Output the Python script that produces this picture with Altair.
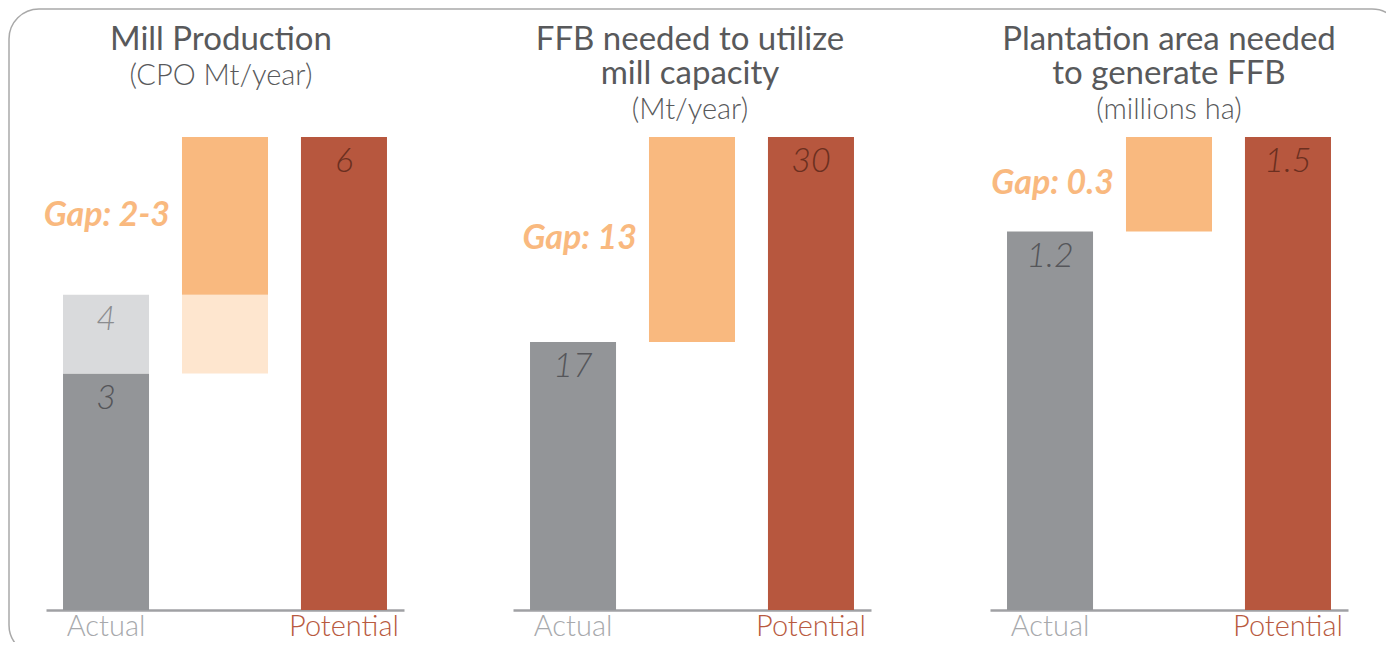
import altair as alt
import pandas as pd

FONT = "Lato"
CATS = ["Actual", "Gap", "Potential"]

# ---- data ----
p1_cat = ["Actual", "Actual", "Gap", "Gap", "Potential"]
p1_lo = [0, 3, 3, 4, 0]
p1_hi = [3, 4, 4, 6, 6]
p1_kind = ["actual", "actual_upper", "gap_lower", "gap", "potential"]
p1_label = ["3", "4", "", "", "6"]

p2_cat = ["Actual", "Gap", "Potential"]
p2_lo = [0, 17, 0]
p2_hi = [17, 30, 30]
p2_kind = ["actual", "gap", "potential"]
p2_label = ["17", "", "30"]

p3_cat = ["Actual", "Gap", "Potential"]
p3_lo = [0, 1.2, 0]
p3_hi = [1.2, 1.5, 1.5]
p3_kind = ["actual", "gap", "potential"]
p3_label = ["1.2", "", "1.5"]

titles = [["Mill Production"],
          ["FFB needed to utilize", "mill capacity"],
          ["Plantation area needed", "to generate FFB"]]
subtitles = ["(CPO Mt/year)", "(Mt/year)", "(millions ha)"]
gap_text = ["Gap: 2-3", "Gap: 13", "Gap: 0.3"]
gap_from = [4, 17, 1.2]
gap_to = [6, 30, 1.5]

# ---- styles ----
KINDS = ["actual", "actual_upper", "gap_lower", "gap", "potential"]
FILLS = ["#939598", "#d9dadc", "#fee6cf", "#f9b97f", "#b7573e"]
TEXTC = ["#55565a", "#8b8c8f", "#8b8c8f", "#8b8c8f", "#6b2f20"]
TITLE_C = "#58595b"
PW = 358      # axis / band range width
PH = 473      # plot height


def title_layers(lines, sub, cx):
    out = []
    n = len(lines)
    sub_y = -18 - 34 * (2 - n)
    for i, line in enumerate(lines):
        yy = sub_y - 35 - 34 * (n - 1 - i)
        out.append(alt.Chart(pd.DataFrame({"t": [line]})).mark_text(
            font=FONT, fontSize=33, color=TITLE_C, baseline="alphabetic", align="center"
        ).encode(x=alt.value(cx), y=alt.value(yy), text="t:N"))
    out.append(alt.Chart(pd.DataFrame({"t": [sub]})).mark_text(
        font=FONT, fontSize=29, fontWeight=300, color=TITLE_C,
        baseline="alphabetic", align="center"
    ).encode(x=alt.value(cx), y=alt.value(sub_y), text="t:N"))
    return out


def panel(cat, lo, hi, kind, label, title, subtitle, gtext, g0, g1,
          width, cx, frame=False):
    df = pd.DataFrame({"cat": cat, "lo": lo, "hi": hi, "kind": kind, "label": label})
    ymax = max(hi)
    xs = alt.Scale(domain=CATS, range=[0, PW], paddingInner=0.277, paddingOuter=0.143)
    ys = alt.Scale(domain=[0, ymax], nice=False, zero=True)
    xaxis = alt.Axis(title=None, domainColor="#a0a1a4", domainWidth=2.5, ticks=False,
                     tickSize=0, labelFont=FONT, labelFontSize=29, labelPadding=2,
                     labelAngle=0, labelFontWeight=300,
                     labelExpr="datum.value == 'Gap' ? '' : datum.value",
                     labelColor={"condition": {"test": "datum.value === 'Potential'",
                                               "value": "#b85a40"},
                                 "value": "#a7a9ac"})
    base = alt.Chart(df)
    bars = base.mark_bar().encode(
        x=alt.X("cat:N", scale=xs, axis=xaxis, sort=CATS),
        y=alt.Y("lo:Q", scale=ys, axis=None),
        y2="hi:Q",
        fill=alt.Fill("kind:N", scale=alt.Scale(domain=KINDS, range=FILLS), legend=None),
    )
    vals = base.transform_filter("datum.label != ''").mark_text(
        font=FONT, fontSize=34, fontStyle="italic", fontWeight=300,
        baseline="middle", dy=25
    ).encode(
        x=alt.X("cat:N", sort=CATS),
        y=alt.Y("hi:Q"),
        text="label:N",
        color=alt.Color("kind:N", scale=alt.Scale(domain=KINDS, range=TEXTC), legend=None),
    )
    gdf = pd.DataFrame({"cat": ["Gap"], "txt": [gtext], "g0": [g0], "g1": [g1]})
    gap = alt.Chart(gdf).transform_calculate(
        mid="(datum.g0 + datum.g1) / 2"
    ).mark_text(
        font=FONT, fontSize=34, fontStyle="italic", fontWeight="bold",
        color="#f9b97f", align="right", baseline="middle", dx=-55
    ).encode(x=alt.X("cat:N", sort=CATS), y=alt.Y("mid:Q"), text="txt:N")

    layers = [bars, vals, gap] + title_layers(title, subtitle, cx)
    if frame:
        fr = alt.Chart(pd.DataFrame({"f": [0]})).mark_rect(
            fillOpacity=0, stroke="#a9a9a9", strokeWidth=1.5, cornerRadius=30
        ).encode(x=alt.value(-37), x2=alt.value(1356), y=alt.value(-128), y2=alt.value(518))
        layers = [fr] + layers
    return alt.layer(*layers).properties(width=width, height=PH)


c1 = panel(p1_cat, p1_lo, p1_hi, p1_kind, p1_label, titles[0], subtitles[0],
           gap_text[0], gap_from[0], gap_to[0], PW, 175, frame=True)
c2 = panel(p2_cat, p2_lo, p2_hi, p2_kind, p2_label, titles[1], subtitles[1],
           gap_text[1], gap_from[1], gap_to[1], PW + 10, 177)
c3 = panel(p3_cat, p3_lo, p3_hi, p3_kind, p3_label, titles[2], subtitles[2],
           gap_text[2], gap_from[2], gap_to[2], PW, 179)

# negative right/bottom padding crops the frame where the reference page ends
chart = alt.hconcat(c1, c2, c3, spacing=109, bounds="flush").properties(
    padding={"left": 0, "top": 0, "right": -17, "bottom": -14}, background="white"
).configure_view(stroke=None)

chart.save("out.html", embed_options={"renderer": "svg", "actions": False})
